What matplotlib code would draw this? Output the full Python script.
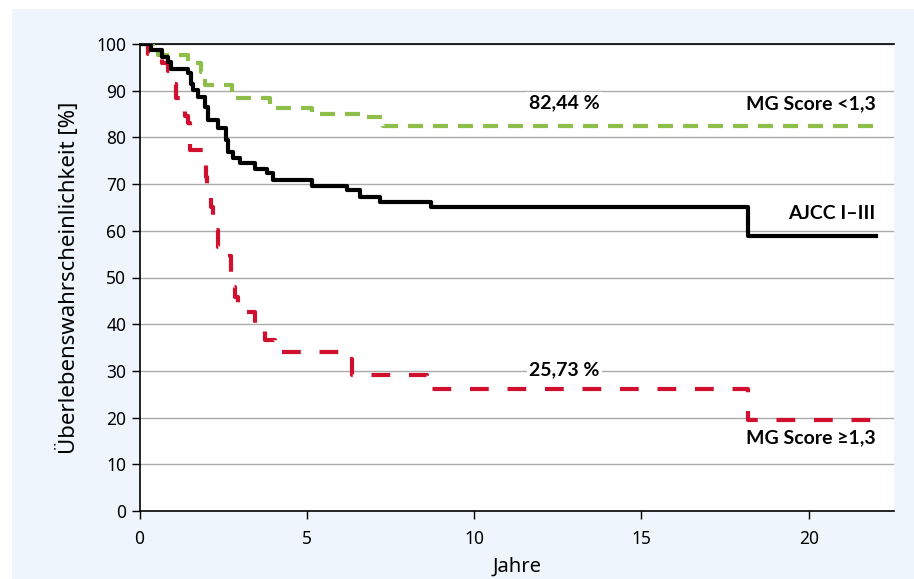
import matplotlib.pyplot as plt
from matplotlib.patches import Rectangle

# Kaplan-Meier step data (years, survival %)
ajcc_t = [0, 0.35, 0.66, 0.85, 0.95, 1.45, 1.55, 1.6, 1.75, 1.95, 2.05, 2.35, 2.6, 2.65,
          2.8, 3.0, 3.45, 3.8, 4.0, 5.15, 6.2, 6.6, 7.2, 8.7, 18.2, 22.0]
ajcc_s = [100, 98.8, 97.3, 96.2, 94.6, 93.8, 91.5, 90.1, 88.7, 86.6, 83.7, 82.0, 79.4, 76.9,
          75.5, 74.5, 73.3, 72.3, 70.9, 69.6, 68.7, 67.3, 66.2, 65.0, 58.8, 58.8]

low_t = [0, 0.55, 1.45, 1.85, 1.95, 2.75, 3.9, 5.15, 6.7, 7.27, 22.0]
low_s = [100, 97.6, 95.9, 94.1, 91.2, 88.4, 86.2, 85.1, 84.3, 82.44, 82.44]

high_t = [0, 0.24, 0.66, 0.84, 1.03, 1.1, 1.25, 1.35, 1.45, 1.5, 1.99, 2.0, 2.03, 2.06,
          2.15, 2.2, 2.3, 2.35, 2.7, 2.72, 2.8, 2.85, 2.95, 3.45, 3.75, 4.05, 6.2, 6.35,
          8.6, 18.2, 22.0]
high_s = [100, 97.9, 96.0, 94.3, 91.5, 88.5, 86.0, 84.5, 83.0, 77.3, 76.2, 71.5, 69.5, 67.0,
          65.2, 62.2, 60.2, 56.6, 54.5, 50.5, 48.0, 45.9, 42.7, 39.5, 36.6, 34.1, 32.5, 29.1,
          26.1, 19.5, 19.5]

x_ticks = [0, 5, 10, 15, 20]
y_ticks = list(range(0, 101, 10))

plt.rcParams['font.family'] = ['Noto Sans', 'DejaVu Sans']

fig = plt.figure(figsize=(9.14, 5.79), dpi=100, facecolor='white')
fig.patches.append(Rectangle((12 / 914, 0), 1, 1 - 9 / 579, transform=fig.transFigure,
                             facecolor='#eef5fc', edgecolor='none', zorder=-10))
ax = fig.add_axes([139.5 / 914, 1 - 511 / 579, (894 - 139.5) / 914, (511 - 44) / 579])
ax.set_zorder(1)
ax.set_facecolor('white')

ax.step(low_t, low_s, where='post', color='#8dbf4a', lw=3, dashes=(3.6, 2.4), zorder=3)
ax.step(ajcc_t, ajcc_s, where='post', color='black', lw=3, zorder=4)
ax.step(high_t, high_s, where='post', color='#d0102e', lw=3, dashes=(4.5, 4.5), zorder=3)

ax.set_xlim(0, 22.55)
ax.set_ylim(0, 100)
ax.set_xticks(x_ticks)
ax.set_yticks(y_ticks)
ax.yaxis.grid(True, color='#aaaaaa', lw=1)
ax.set_axisbelow(True)
for side in ['left', 'bottom', 'top']:
    ax.spines[side].set_color('black')
    ax.spines[side].set_linewidth(1.2)
ax.spines['right'].set_visible(False)
ax.tick_params(direction='out', length=6, width=1, labelsize=12.5, colors='black')
ax.tick_params(axis='x', pad=8)

ax.set_xlabel('Jahre', fontsize=14.5, labelpad=6)
ax.set_ylabel('Überlebenswahrscheinlichkeit [%]', fontsize=16, labelpad=12)

bold = dict(fontsize=14, fontweight='bold', color='black', family=['Lato', 'DejaVu Sans'])
ax.text(12.7, 87.4, '82,44 %', ha='center', va='center', zorder=5,
        bbox=dict(facecolor='white', edgecolor='none', pad=2), **bold)
ax.text(12.7, 30.2, '25,73 %', ha='center', va='center', zorder=5,
        bbox=dict(facecolor='white', edgecolor='none', pad=2), **bold)
ax.text(22.0, 87.2, 'MG Score <1,3', ha='right', va='center', zorder=5, **bold)
ax.text(22.0, 63.8, 'AJCC I–III', ha='right', va='center', zorder=5, **bold)
ax.text(22.0, 15.6, 'MG Score ≥1,3', ha='right', va='center', zorder=5, **bold)

fig.savefig('out.png', dpi=100, facecolor=fig.get_facecolor())
